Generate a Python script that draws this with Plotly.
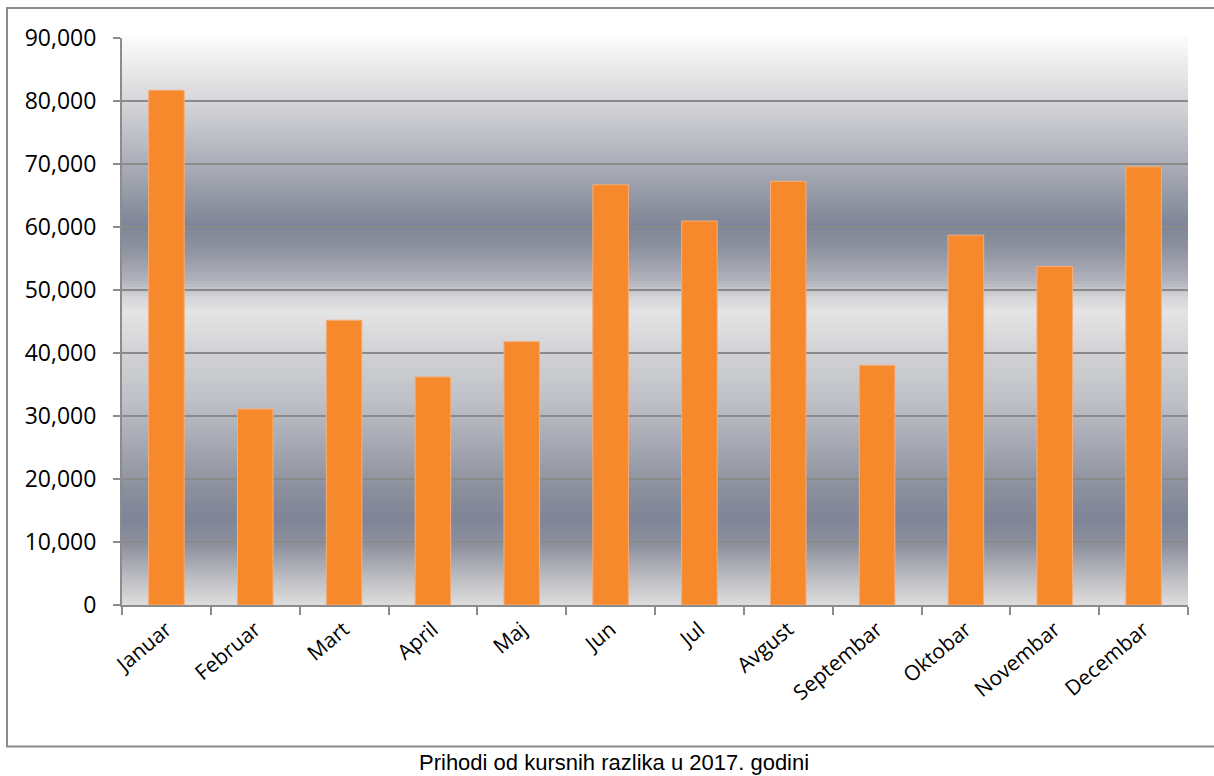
import plotly.graph_objects as go

# Monthly income from exchange-rate differences, 2017
months = ["Januar", "Februar", "Mart", "April", "Maj", "Jun", "Jul",
          "Avgust", "Septembar", "Oktobar", "Novembar", "Decembar"]
income = [81700, 31100, 45200, 36200, 41800, 66700, 60950,
          67250, 38050, 58700, 53750, 69550]

y_ticks = [0, 10000, 20000, 30000, 40000, 50000, 60000, 70000, 80000, 90000]
y_max = 90000

W, H = 1214, 776
L, R, T, B = 122, 26, 38, 171

# Silver banded backdrop: (fraction of plot height from bottom, colour)
bg_stops = [
    (0.000, (222, 222, 222)),
    (0.053, (184, 185, 191)),
    (0.106, (141, 145, 157)),
    (0.150, (127, 133, 151)),
    (0.203, (139, 143, 156)),
    (0.273, (162, 165, 175)),
    (0.362, (191, 193, 199)),
    (0.450, (211, 211, 214)),
    (0.517, (228, 228, 228)),
    (0.541, (214, 214, 216)),
    (0.573, (176, 178, 187)),
    (0.626, (143, 147, 160)),
    (0.670, (127, 133, 151)),
    (0.750, (160, 163, 174)),
    (0.838, (195, 196, 202)),
    (0.926, (227, 227, 228)),
    (1.000, (251, 251, 251)),
]


def bg_colour(f):
    for (f0, c0), (f1, c1) in zip(bg_stops[:-1], bg_stops[1:]):
        if f0 <= f <= f1:
            t = (f - f0) / (f1 - f0) if f1 > f0 else 0
            return "rgb(%d,%d,%d)" % tuple(round(a + (b - a) * t) for a, b in zip(c0, c1))
    return "rgb(%d,%d,%d)" % bg_stops[-1][1]


n_bands = 189
shapes = []
for i in range(n_bands):
    f0, f1 = i / n_bands, (i + 1) / n_bands
    shapes.append(dict(
        type="rect", xref="paper", yref="paper",
        x0=0, x1=1, y0=f0, y1=f1 + 0.002,
        fillcolor=bg_colour((f0 + f1) / 2), line=dict(width=0),
        layer="below",
    ))

# Outer frame around the chart
plot_w = W - L - R
plot_h = H - T - B
shapes.append(dict(
    type="rect", xref="paper", yref="paper",
    x0=(7 - L) / plot_w, x1=(1220 - L) / plot_w,
    y0=(H - B - 746.5) / plot_h, y1=(H - B - 8) / plot_h,
    line=dict(color="#8c8c8c", width=2), fillcolor="rgba(0,0,0,0)",
    layer="above",
))

fig = go.Figure(go.Bar(
    x=months, y=income,
    marker=dict(color="#f5892b", line=dict(color="#f7ad78", width=1)),
    hoverinfo="x+y",
))

fig.update_layout(
    width=W, height=H,
    margin=dict(l=L, r=R, t=T, b=B, pad=0),
    paper_bgcolor="white",
    plot_bgcolor="white",
    bargap=0.6,
    showlegend=False,
    shapes=shapes,
    font=dict(family="Open Sans", color="black"),
    annotations=[dict(
        text="Prihodi od kursnih razlika u 2017. godini",
        xref="paper", yref="paper",
        x=(613.5 - L) / plot_w, y=(H - B - 762) / plot_h,
        xanchor="center", yanchor="middle", showarrow=False,
        font=dict(family="Liberation Sans, Arial", size=22, color="black"),
    )],
)

fig.update_xaxes(
    type="category",
    tickson="boundaries",
    ticks="outside", ticklen=8, tickwidth=2, tickcolor="#8c8c8c",
    showline=True, linecolor="#8c8c8c", linewidth=2,
    showgrid=False,
    tickangle=-40,
    tickfont=dict(family="Open Sans", size=21, color="black"),
    ticklabelstandoff=2,
)

fig.update_yaxes(
    range=[0, y_max],
    tickvals=y_ticks,
    ticktext=[f"{v:,}" for v in y_ticks],
    ticks="outside", ticklen=7, tickwidth=2, tickcolor="#8c8c8c",
    showline=True, linecolor="#8c8c8c", linewidth=2,
    showgrid=True, gridcolor="#8a8a8a", gridwidth=2,
    zeroline=False,
    tickfont=dict(family="Open Sans", size=23, color="black"),
    ticklabelstandoff=12,
)

fig.write_html("out.html")
